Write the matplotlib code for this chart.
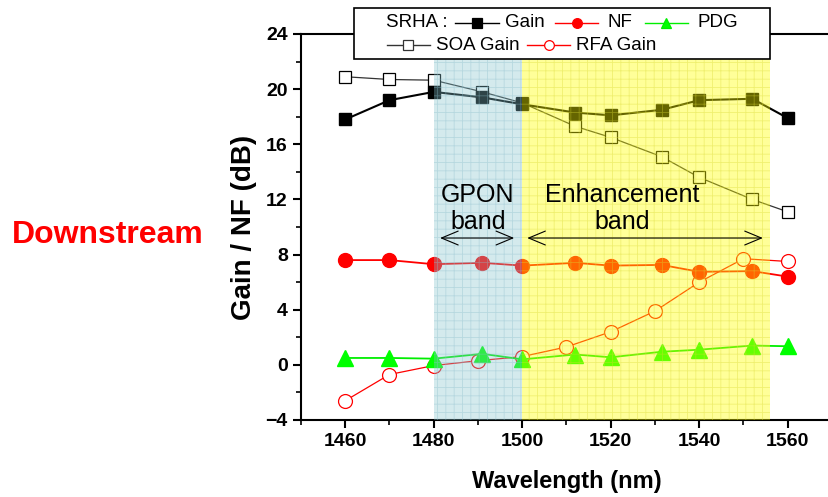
from matplotlib import pyplot as plt
from matplotlib.lines import Line2D
from matplotlib.patches import Rectangle
from matplotlib.ticker import MultipleLocator
import numpy as np

plt.rcParams['font.family'] = ['Liberation Sans', 'DejaVu Sans']
plt.rcParams['hatch.linewidth'] = 0.6

# SRHA gain (filled squares) and SOA gain (open squares)
wl_gain = [1460, 1470, 1480, 1491, 1500, 1512, 1520, 1531.5, 1540, 1552, 1560]
gain = [17.8, 19.2, 19.8, 19.4, 18.9, 18.3, 18.1, 18.5, 19.2, 19.3, 17.9]
soa_gain = [20.9, 20.7, 20.65, 19.8, 19.0, 17.3, 16.5, 15.1, 13.6, 12.0, 11.1]
# noise figure and PDG
nf = [7.6, 7.6, 7.3, 7.4, 7.2, 7.4, 7.2, 7.25, 6.75, 6.8, 6.4]
pdg = [0.5, 0.5, 0.45, 0.8, 0.4, 0.75, 0.55, 0.95, 1.1, 1.4, 1.35]
# RFA gain (open circles)
wl_rfa = [1460, 1470, 1480, 1490, 1500, 1510, 1520, 1530, 1540, 1550, 1560]
rfa_gain = [-2.6, -0.7, -0.05, 0.3, 0.6, 1.3, 2.4, 3.9, 6.0, 7.7, 7.5]

gpon_band = (1480, 1500)
enh_band = (1500, 1556)

W, H = 829, 497
fig = plt.figure(figsize=(W / 100, H / 100), dpi=100)
ax = fig.add_axes([301 / W, 1 - 420 / H, 531 / W, 386 / H])

ax.plot(wl_gain, soa_gain, '-', color='#333333', lw=0.9, marker='s', ms=9,
        mfc='white', mec='black', mew=0.9, zorder=3)
ax.plot(wl_gain, gain, '-', color='black', lw=1.5, marker='s', ms=9,
        mfc='black', mec='black', zorder=4)
ax.plot(wl_rfa, rfa_gain, '-', color='red', lw=0.9, marker='o', ms=10,
        mfc='white', mec='red', mew=0.9, zorder=3)
ax.plot(wl_gain, nf, '-', color='red', lw=1.3, marker='o', ms=10,
        mfc='red', mec='red', zorder=4)
ax.plot(wl_gain, pdg, '-', color='#00ee00', lw=1.3, marker='^', ms=11,
        mfc='#00ff00', mec='#00ff00', zorder=4)

# shaded bands over the data
ax.axvspan(*gpon_band, color=(132 / 255, 195 / 255, 206 / 255), alpha=0.35, lw=0, zorder=5)
ax.axvspan(*gpon_band, facecolor='none', edgecolor=(0.55, 0.75, 0.8, 0.4),
           hatch='++', lw=0, zorder=5)
ax.axvspan(*enh_band, color='yellow', alpha=0.4, lw=0, zorder=5)
ax.axvspan(*enh_band, facecolor='none', edgecolor=(0.85, 0.85, 0.2, 0.4),
           hatch='++', lw=0, zorder=5)

# band labels and arrows
ax.text(1490, 11.35, 'GPON\nband', ha='center', va='center', fontsize=18,
        linespacing=1.15, zorder=6)
ax.text(1522.5, 11.35, 'Enhancement\nband', ha='center', va='center', fontsize=18,
        linespacing=1.15, zorder=6)
arr = dict(arrowstyle='<->,head_length=1.2,head_width=0.5', lw=0.8, color='black')
ax.annotate('', xy=(1480.8, 9.2), xytext=(1498.8, 9.2), arrowprops=arr, zorder=6)
ax.annotate('', xy=(1500.5, 9.2), xytext=(1555, 9.2), arrowprops=arr, zorder=6)

ax.set_xlim(1450, 1570)
ax.set_ylim(-4, 24)
ax.xaxis.set_major_locator(MultipleLocator(20))
ax.xaxis.set_minor_locator(MultipleLocator(10))
ax.yaxis.set_major_locator(MultipleLocator(4))
ax.yaxis.set_minor_locator(MultipleLocator(2))
ax.tick_params(which='major', direction='out', length=6, width=1.5, labelsize=14)
ax.tick_params(which='minor', direction='out', length=3.5, width=1.2)
for s in ax.spines.values():
    s.set_linewidth(1.5)
for lab in ax.get_xticklabels() + ax.get_yticklabels():
    lab.set_fontweight('bold')

ax.set_xlabel('Wavelength (nm)', fontsize=17, fontweight='bold', labelpad=14)
ax.set_ylabel('Gain / NF (dB)', fontsize=20, fontweight='bold', labelpad=6)

fig.text(108 / W, 1 - 235 / H, 'Downstream', color='red', fontsize=23,
         fontweight='bold', ha='center', va='center')


# hand-made legend box (layout of the original is not a grid)
def px(x, y):
    return x / W, 1 - y / H


box = Rectangle(px(354, 59), 416 / W, 51 / H, transform=fig.transFigure,
                facecolor='white', edgecolor='black', lw=1.2, zorder=10)
fig.patches.append(box)


def handle(x0, x1, y, color, marker, mfc, lw=1.0):
    (xa, ya), (xb, _) = px(x0, y), px(x1, y)
    fig.add_artist(Line2D([xa, xb], [ya, ya], color=color, lw=lw,
                          transform=fig.transFigure, zorder=11))
    fig.add_artist(Line2D([(xa + xb) / 2], [ya], color=color, marker=marker,
                          ms=7, mfc=mfc, mec=color, mew=0.9, lw=0,
                          transform=fig.transFigure, zorder=12))


def label(x, y, s):
    fig.text(*px(x, y), s, fontsize=13.5, ha='left', va='center', zorder=12)


label(386, 22.5, 'SRHA :')
handle(455, 499, 22.5, 'black', 's', 'black')
label(505, 22.5, 'Gain')
handle(555, 598, 22.5, 'red', 'o', 'red')
label(608, 22.5, 'NF')
handle(645, 688, 22.5, '#00ee00', '^', '#00ff00')
label(698, 22.5, 'PDG')
handle(387, 430, 45, '#333333', 's', 'white')
label(436, 45, 'SOA Gain')
handle(527, 570, 45, 'red', 'o', 'white')
label(576, 45, 'RFA Gain')

fig.savefig('out.png', dpi=100)
